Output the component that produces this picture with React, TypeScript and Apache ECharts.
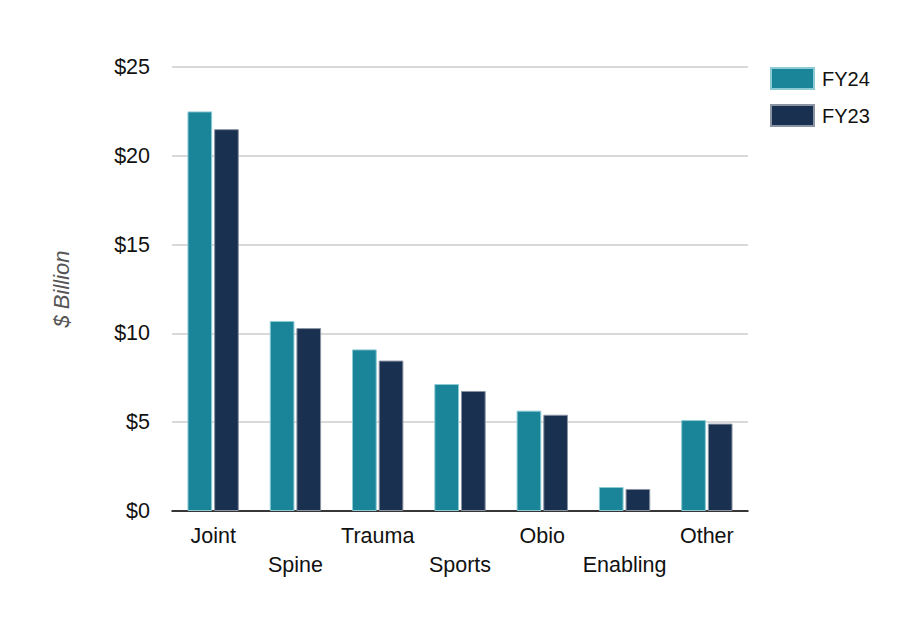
import React, { useEffect, useRef } from "react";
import * as echarts from "echarts";

const categories = ["Joint", "Spine", "Trauma", "Sports", "Obio", "Enabling", "Other"];
const fy24 = [22.5, 10.7, 9.1, 7.15, 5.65, 1.35, 5.12];
const fy23 = [21.5, 10.3, 8.47, 6.76, 5.42, 1.24, 4.92];
const yTicks = [0, 5, 10, 15, 20, 25];

export default function App() {
  const ref = useRef<HTMLDivElement>(null);
  useEffect(() => {
    if (!ref.current) return;
    const chart = echarts.init(ref.current, undefined, { renderer: "svg" });
    const font = "Liberation Sans, Helvetica, Arial, sans-serif";
    chart.setOption({
      animation: false,
      grid: { left: 164, right: 152, top: 59, bottom: 107 },
      legend: {
        orient: "vertical",
        left: 757,
        top: 54,
        icon: "rect",
        itemWidth: 43,
        itemHeight: 21,
        itemGap: 14,
        textStyle: { fontSize: 20, color: "#111", fontFamily: font, padding: [0, 0, 0, 3] },
        data: ["FY24", "FY23"],
      },
      xAxis: {
        type: "category",
        data: categories,
        axisLine: { lineStyle: { color: "#000", width: 1.5 } },
        axisTick: { show: false },
        axisLabel: {
          interval: 0,
          fontSize: 21.5,
          color: "#111",
          fontFamily: font,
          margin: 10.5,
          lineHeight: 29,
          formatter: (v: string, i: number) => (i % 2 === 1 ? "\n" + v : v),
        },
      },
      yAxis: {
        type: "value",
        min: yTicks[0],
        max: yTicks[yTicks.length - 1],
        interval: 5,
        name: "$ Billion",
        nameLocation: "middle",
        nameGap: 100,
        nameTextStyle: { fontSize: 22, fontStyle: "italic", color: "#555", fontFamily: font },
        axisLabel: {
          fontSize: 21.5,
          color: "#111",
          fontFamily: font,
          margin: 22,
          formatter: (v: number) => "$" + v,
        },
        splitLine: { lineStyle: { color: "#ccc", width: 1.5 } },
        axisLine: { show: false },
        axisTick: { show: false },
      },
      series: [
        {
          name: "FY24",
          type: "bar",
          data: fy24,
          barWidth: "30%",
          barGap: "8%",
          itemStyle: { color: "#1a8499", borderColor: "#8ccbd4", borderWidth: 1 },
        },
        {
          name: "FY23",
          type: "bar",
          data: fy23,
          barWidth: "30%",
          itemStyle: { color: "#1a3050", borderColor: "#8a94a3", borderWidth: 1 },
        },
      ],
    });
    return () => chart.dispose();
  }, []);
  return <div ref={ref} style={{ width: 892, height: 610 }} />;
}
